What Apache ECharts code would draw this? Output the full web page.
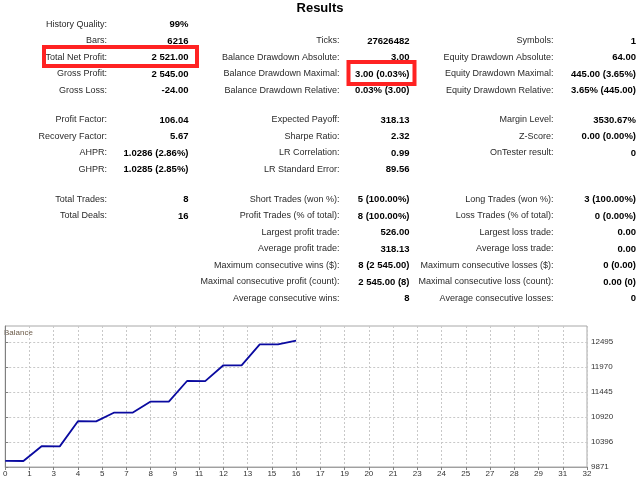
<!DOCTYPE html>
<html>
<head>
<meta charset="utf-8">
<script src="https://cdn.jsdelivr.net/npm/echarts@6/dist/echarts.min.js"></script>
<style>
html, body { margin: 0; padding: 0; background: #fff; }
#main { width: 640px; height: 480px; }
</style>
</head>
<body>
<div id="main"></div>
<script>
// balance after each deal (deal 0 = initial deposit)
var deals = [0, 1, 2, 3, 4, 5, 6, 7, 8, 9, 10, 11, 12, 13, 14, 15, 16];
var balance = [10000, 9997, 10306, 10303, 10829, 10826, 11012, 11009, 11242, 11239,
	11673, 11670, 12002, 11999, 12441, 12438, 12521];
var yTicks = [9871, 10396, 10920, 11445, 11970, 12495];

// report rows: [label, value], null = empty slot
var leftCol = [
	[['History Quality:', '99%'], ['Bars:', '6216'], ['Total Net Profit:', '2 521.00'],
	 ['Gross Profit:', '2 545.00'], ['Gross Loss:', '-24.00']],
	[['Profit Factor:', '106.04'], ['Recovery Factor:', '5.67'],
	 ['AHPR:', '1.0286 (2.86%)'], ['GHPR:', '1.0285 (2.85%)']],
	[['Total Trades:', '8'], ['Total Deals:', '16']]
];
var midCol = [
	[null, ['Ticks:', '27626482'], ['Balance Drawdown Absolute:', '3.00'],
	 ['Balance Drawdown Maximal:', '3.00 (0.03%)'], ['Balance Drawdown Relative:', '0.03% (3.00)']],
	[['Expected Payoff:', '318.13'], ['Sharpe Ratio:', '2.32'],
	 ['LR Correlation:', '0.99'], ['LR Standard Error:', '89.56']],
	[['Short Trades (won %):', '5 (100.00%)'], ['Profit Trades (% of total):', '8 (100.00%)'],
	 ['Largest profit trade:', '526.00'], ['Average profit trade:', '318.13'],
	 ['Maximum consecutive wins ($):', '8 (2 545.00)'],
	 ['Maximal consecutive profit (count):', '2 545.00 (8)'],
	 ['Average consecutive wins:', '8']]
];
var rightCol = [
	[null, ['Symbols:', '1'], ['Equity Drawdown Absolute:', '64.00'],
	 ['Equity Drawdown Maximal:', '445.00 (3.65%)'], ['Equity Drawdown Relative:', '3.65% (445.00)']],
	[['Margin Level:', '3530.67%'], ['Z-Score:', '0.00 (0.00%)'], ['OnTester result:', '0']],
	[['Long Trades (won %):', '3 (100.00%)'], ['Loss Trades (% of total):', '0 (0.00%)'],
	 ['Largest loss trade:', '0.00'], ['Average loss trade:', '0.00'],
	 ['Maximum consecutive losses ($):', '0 (0.00)'],
	 ['Maximal consecutive loss (count):', '0.00 (0)'],
	 ['Average consecutive losses:', '0']]
];

var FONT = '"Liberation Sans", Arial, sans-serif';
var graphics = [{
	type: 'text', left: 'center', top: 2,
	style: { text: 'Results', font: 'bold 13px ' + FONT, fill: '#000' }
}];

function addColumn(col, labelRight, valueRight) {
	var groupTop = [24.5, 120, 199.5];
	col.forEach(function (group, g) {
		group.forEach(function (row, i) {
			if (!row) return;
			var y = groupTop[g] + i * 16.5;
			graphics.push({
				type: 'text', x: labelRight, y: y,
				style: { text: row[0], font: '9px ' + FONT, fill: '#2a2a2a',
					align: 'right', verticalAlign: 'middle' }
			});
			graphics.push({
				type: 'text', x: valueRight, y: y,
				style: { text: row[1], font: 'bold 9.5px ' + FONT, fill: '#000',
					align: 'right', verticalAlign: 'middle' }
			});
		});
	});
}
addColumn(leftCol, 107, 188.5);
addColumn(midCol, 339.5, 409.5);
addColumn(rightCol, 553.5, 636);

// red highlight boxes
graphics.push({
	type: 'rect', shape: { x: 44, y: 47, width: 153, height: 19 },
	style: { fill: null, stroke: '#ff2222', lineWidth: 4 }
});
graphics.push({
	type: 'rect', shape: { x: 348.5, y: 62, width: 66, height: 22 },
	style: { fill: null, stroke: '#ff2222', lineWidth: 4 }
});
graphics.push({
	type: 'text', x: 4, y: 329,
	style: { text: 'Balance', font: '8px ' + FONT, fill: '#6b5a48' }
});

var gridLine = { show: true, lineStyle: { color: '#c8c8c8', type: [2, 2], width: 1 } };

var option = {
	animation: false,
	backgroundColor: '#fff',
	grid: {
		left: 3, right: 53, top: 326, bottom: 13,
		show: true, borderColor: '#a8a8a8', borderWidth: 1
	},
	xAxis: {
		type: 'value', min: 0, max: 32, interval: 32 / 24,
		axisLine: { show: true, lineStyle: { color: '#a0a0a0' } },
		axisTick: { show: true, length: 3, lineStyle: { color: '#808080' } },
		axisLabel: {
			fontSize: 8, color: '#333', margin: 3, fontFamily: FONT,
			formatter: function (v) { return String(Math.round(v)); }
		},
		splitLine: gridLine
	},
	yAxis: {
		type: 'value', position: 'right', min: 9871, max: 12825,
		axisLine: { show: true, lineStyle: { color: '#808080' } },
		axisTick: { show: true, length: 3, customValues: yTicks, lineStyle: { color: '#808080' } },
		axisLabel: {
			fontSize: 8, color: '#333', margin: 4, fontFamily: FONT, customValues: yTicks,
			formatter: function (v) { return String(Math.round(v)); }
		},
		splitLine: gridLine
	},
	series: [{
		type: 'line',
		data: deals.map(function (d, i) { return [d, balance[i]]; }),
		showSymbol: false,
		lineStyle: { color: '#0a0aa0', width: 1.8 }
	}],
	graphic: graphics
};
var myChart = echarts.init(document.getElementById('main'));
myChart.setOption(option);
</script>
</body>
</html>
